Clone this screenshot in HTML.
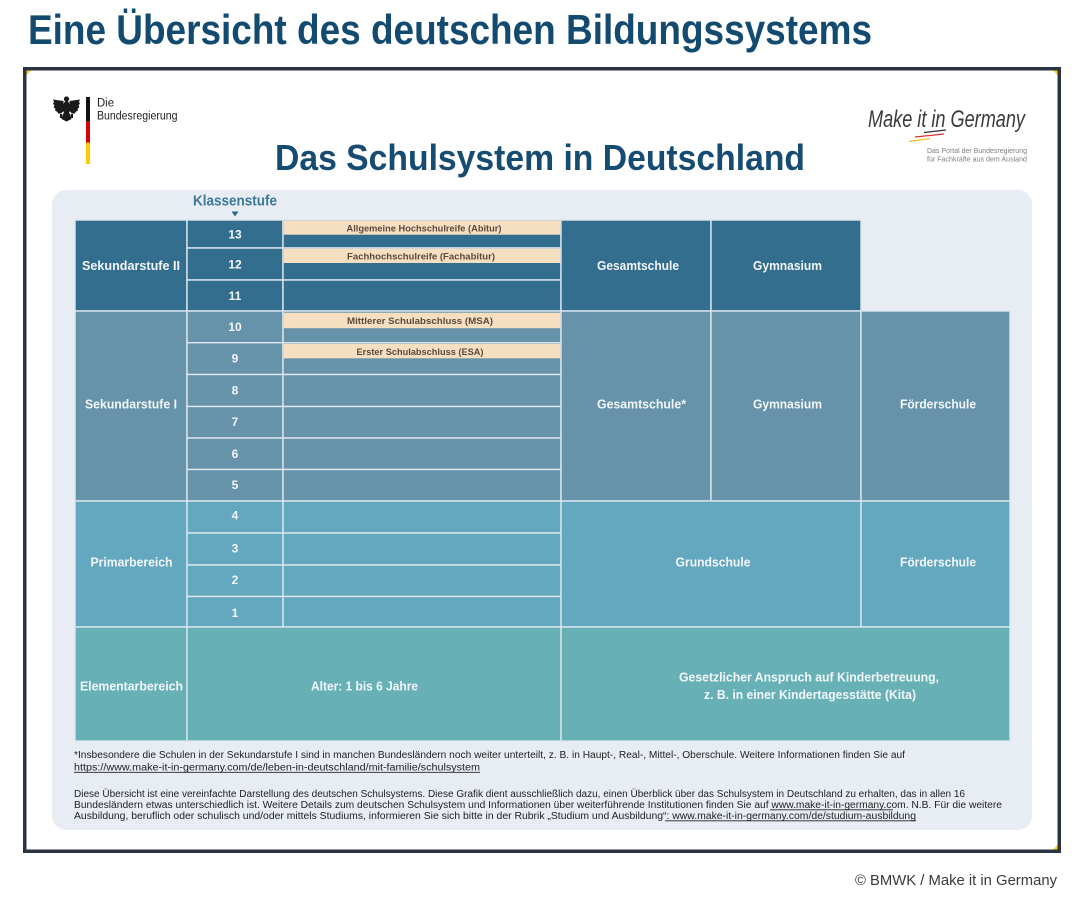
<!DOCTYPE html>
<html>
<head>
<meta charset="utf-8">
<style>
  html,body{margin:0;padding:0;background:#ffffff;}
  svg{display:block;}
  text{font-family:"Liberation Sans", sans-serif;}
  .cell{font-weight:bold;fill:#f2f6f8;font-size:12.5px;}
  .num{font-weight:bold;fill:#f2f6f8;font-size:12px;}
  .ban{font-weight:bold;fill:#5a4a3c;font-size:9.5px;}
  .foot{fill:#222;font-size:10px;}
</style>
</head>
<body>
<svg width="1077" height="912" viewBox="0 0 1077 912" xmlns="http://www.w3.org/2000/svg">
  <rect x="0" y="0" width="1077" height="912" fill="#ffffff"/>

  <!-- Page title -->
  <text x="28" y="44" font-size="42" font-weight="bold" fill="#124b6f" textLength="844" lengthAdjust="spacingAndGlyphs">Eine Übersicht des deutschen Bildungssystems</text>

  <!-- Frame -->
  <rect x="24.75" y="68.75" width="1034.5" height="782.5" fill="#ffffff" stroke="#2b3341" stroke-width="3.5"/>
  <polygon points="26.5,70.5 31,70.5 26.5,75" fill="#f2d21b"/>
  <polygon points="1057.5,70.5 1053,70.5 1057.5,75" fill="#f2d21b"/>
  <polygon points="1057.5,849.5 1053,849.5 1057.5,845" fill="#f2d21b"/>

  <!-- Bundesregierung logo -->
  <g fill="#1a1a1a">
    <circle cx="66.5" cy="99" r="2.6"/>
    <ellipse cx="66.5" cy="108" rx="3.6" ry="7"/>
    <polygon points="63.5,101 53,99.5 54,102 53,103.5 54.5,105.5 53.5,107 55.5,109 55,110.5 57.5,112 58,113.5 61,113.5 63.5,111"/>
    <polygon points="69.5,101 80,99.5 79,102 80,103.5 78.5,105.5 79.5,107 77.5,109 78,110.5 75.5,112 75,113.5 72,113.5 69.5,111"/>
    <polygon points="63,113.5 70,113.5 71.5,119 66.5,121.5 61.5,119"/>
    <rect x="60" y="114" width="2" height="4"/>
    <rect x="71" y="114" width="2" height="4"/>
  </g>
  <rect x="86" y="97" width="4" height="24.7" fill="#111"/>
  <rect x="86" y="121.7" width="4" height="21" fill="#dd0000"/>
  <rect x="86" y="142.7" width="4" height="21.3" fill="#ffcc00"/>
  <text x="97" y="106.7" font-size="11.5" fill="#222" textLength="17" lengthAdjust="spacingAndGlyphs">Die</text>
  <text x="97" y="119.5" font-size="11.5" fill="#222" textLength="80.5" lengthAdjust="spacingAndGlyphs">Bundesregierung</text>

  <!-- Make it in Germany logo -->
  <text x="868" y="127" font-family="Liberation Serif, serif" font-style="italic" font-size="24" fill="#3a3a3a" textLength="157" lengthAdjust="spacingAndGlyphs">Make it in Germany</text>
  <line x1="924" y1="132.5" x2="946" y2="130" stroke="#333" stroke-width="1.3"/>
  <line x1="915" y1="137" x2="944" y2="134" stroke="#d33" stroke-width="1.3"/>
  <line x1="909" y1="141.5" x2="930" y2="138.5" stroke="#f0c020" stroke-width="1.3"/>
  <text x="1027" y="153" font-size="7.6" fill="#808080" text-anchor="end" textLength="100" lengthAdjust="spacingAndGlyphs">Das Portal der Bundesregierung</text>
  <text x="1027" y="161.5" font-size="7.6" fill="#808080" text-anchor="end" textLength="100" lengthAdjust="spacingAndGlyphs">für Fachkräfte aus dem Ausland</text>

  <!-- Header -->
  <text x="275" y="170" font-size="36" font-weight="bold" fill="#164b72" textLength="530" lengthAdjust="spacingAndGlyphs">Das Schulsystem in Deutschland</text>

  <!-- Panel -->
  <rect x="52" y="190" width="980" height="640" rx="14" ry="14" fill="#e8edf4"/>

  <!-- Klassenstufe -->
  <text x="235" y="205.5" text-anchor="middle" font-size="14.5" font-weight="bold" fill="#3b7898" textLength="84" lengthAdjust="spacingAndGlyphs">Klassenstufe</text>
  <polygon points="231.5,211.5 238.5,211.5 235,216.5" fill="#2f6688"/>

  <g stroke="#dce7ee" stroke-width="1.4">
    <!-- Sekundarstufe II -->
    <g fill="#346e8f">
      <rect x="75" y="220" width="112" height="91"/>
      <rect x="187" y="220" width="96" height="28"/>
      <rect x="187" y="248" width="96" height="32"/>
      <rect x="187" y="280" width="96" height="31"/>
      <rect x="283" y="220" width="278" height="28"/>
      <rect x="283" y="248" width="278" height="32"/>
      <rect x="283" y="280" width="278" height="31"/>
      <rect x="561" y="220" width="150" height="91"/>
      <rect x="711" y="220" width="150" height="91"/>
    </g>
    <!-- Sekundarstufe I -->
    <g fill="#6693aa">
      <rect x="75" y="311" width="112" height="190"/>
      <rect x="187" y="311" width="96" height="31.7"/>
      <rect x="187" y="342.7" width="96" height="31.8"/>
      <rect x="187" y="374.5" width="96" height="32"/>
      <rect x="187" y="406.5" width="96" height="31.5"/>
      <rect x="187" y="438" width="96" height="31.5"/>
      <rect x="187" y="469.5" width="96" height="31.5"/>
      <rect x="283" y="311" width="278" height="31.7"/>
      <rect x="283" y="342.7" width="278" height="31.8"/>
      <rect x="283" y="374.5" width="278" height="32"/>
      <rect x="283" y="406.5" width="278" height="31.5"/>
      <rect x="283" y="438" width="278" height="31.5"/>
      <rect x="283" y="469.5" width="278" height="31.5"/>
      <rect x="561" y="311" width="150" height="190"/>
      <rect x="711" y="311" width="150" height="190"/>
      <rect x="861" y="311" width="149" height="190"/>
    </g>
    <!-- Primarbereich -->
    <g fill="#63a8bf">
      <rect x="75" y="501" width="112" height="126"/>
      <rect x="187" y="501" width="96" height="32"/>
      <rect x="187" y="533" width="96" height="32"/>
      <rect x="187" y="565" width="96" height="31.5"/>
      <rect x="187" y="596.5" width="96" height="30.5"/>
      <rect x="283" y="501" width="278" height="32"/>
      <rect x="283" y="533" width="278" height="32"/>
      <rect x="283" y="565" width="278" height="31.5"/>
      <rect x="283" y="596.5" width="278" height="30.5"/>
      <rect x="561" y="501" width="300" height="126"/>
      <rect x="861" y="501" width="149" height="126"/>
    </g>
    <!-- Elementarbereich -->
    <g fill="#67b1b6">
      <rect x="75" y="627" width="112" height="114"/>
      <rect x="187" y="627" width="374" height="114"/>
      <rect x="561" y="627" width="449" height="114"/>
    </g>
  </g>

  <!-- Banners -->
  <g fill="#f6dfc1">
    <rect x="283.7" y="220.7" width="276.6" height="14"/>
    <rect x="283.7" y="248.7" width="276.6" height="14.3"/>
    <rect x="283.7" y="312.7" width="276.6" height="15.5"/>
    <rect x="283.7" y="343.8" width="276.6" height="14.5"/>
  </g>
  <text class="ban" x="424" y="231.5" text-anchor="middle" textLength="155" lengthAdjust="spacingAndGlyphs">Allgemeine Hochschulreife (Abitur)</text>
  <text class="ban" x="421" y="259.5" text-anchor="middle" textLength="148" lengthAdjust="spacingAndGlyphs">Fachhochschulreife (Fachabitur)</text>
  <text class="ban" x="420" y="324" text-anchor="middle" textLength="146" lengthAdjust="spacingAndGlyphs">Mittlerer Schulabschluss  (MSA)</text>
  <text class="ban" x="420" y="355" text-anchor="middle" textLength="127" lengthAdjust="spacingAndGlyphs">Erster Schulabschluss (ESA)</text>

  <!-- Column 1 labels -->
  <text class="cell" x="131" y="270" text-anchor="middle" textLength="98" lengthAdjust="spacingAndGlyphs">Sekundarstufe II</text>
  <text class="cell" x="131" y="408.3" text-anchor="middle" textLength="92" lengthAdjust="spacingAndGlyphs">Sekundarstufe I</text>
  <text class="cell" x="131.5" y="566.5" text-anchor="middle" textLength="82" lengthAdjust="spacingAndGlyphs">Primarbereich</text>
  <text class="cell" x="131.5" y="690.7" text-anchor="middle" textLength="103" lengthAdjust="spacingAndGlyphs">Elementarbereich</text>

  <!-- Grade numbers -->
  <g class="num" text-anchor="middle">
    <text class="num" x="235" y="238.5" text-anchor="middle">13</text>
    <text class="num" x="235" y="268.5" text-anchor="middle">12</text>
    <text class="num" x="235" y="300" text-anchor="middle">11</text>
    <text class="num" x="235" y="331" text-anchor="middle">10</text>
    <text class="num" x="235" y="362.5" text-anchor="middle">9</text>
    <text class="num" x="235" y="394.5" text-anchor="middle">8</text>
    <text class="num" x="235" y="426" text-anchor="middle">7</text>
    <text class="num" x="235" y="458" text-anchor="middle">6</text>
    <text class="num" x="235" y="489" text-anchor="middle">5</text>
    <text class="num" x="235" y="519.5" text-anchor="middle">4</text>
    <text class="num" x="235" y="552.5" text-anchor="middle">3</text>
    <text class="num" x="235" y="584" text-anchor="middle">2</text>
    <text class="num" x="235" y="617" text-anchor="middle">1</text>
  </g>

  <!-- School types -->
  <text class="cell" x="638" y="270" text-anchor="middle" textLength="82" lengthAdjust="spacingAndGlyphs">Gesamtschule</text>
  <text class="cell" x="787.5" y="270" text-anchor="middle" textLength="69" lengthAdjust="spacingAndGlyphs">Gymnasium</text>
  <text class="cell" x="641.5" y="408.3" text-anchor="middle" textLength="89" lengthAdjust="spacingAndGlyphs">Gesamtschule*</text>
  <text class="cell" x="787.5" y="408.3" text-anchor="middle" textLength="69" lengthAdjust="spacingAndGlyphs">Gymnasium</text>
  <text class="cell" x="938" y="408.3" text-anchor="middle" textLength="76" lengthAdjust="spacingAndGlyphs">Förderschule</text>
  <text class="cell" x="713" y="566.5" text-anchor="middle" textLength="75" lengthAdjust="spacingAndGlyphs">Grundschule</text>
  <text class="cell" x="938" y="566.5" text-anchor="middle" textLength="76" lengthAdjust="spacingAndGlyphs">Förderschule</text>
  <text class="cell" x="364.5" y="690.7" text-anchor="middle" textLength="107" lengthAdjust="spacingAndGlyphs">Alter: 1 bis 6 Jahre</text>
  <text class="cell" x="809" y="681.5" text-anchor="middle" textLength="260" lengthAdjust="spacingAndGlyphs">Gesetzlicher Anspruch auf Kinderbetreuung,</text>
  <text class="cell" x="810" y="699" text-anchor="middle" textLength="212" lengthAdjust="spacingAndGlyphs">z. B. in einer Kindertagesstätte (Kita)</text>

  <!-- Footer notes -->
  <text class="foot" x="74" y="758" textLength="831" lengthAdjust="spacingAndGlyphs">*Insbesondere die Schulen in der Sekundarstufe I sind in manchen Bundesländern noch weiter unterteilt, z. B. in Haupt-, Real-, Mittel-, Oberschule. Weitere Informationen finden Sie auf</text>
  <text class="foot" x="74" y="770.5" textLength="406" lengthAdjust="spacingAndGlyphs">https://www.make-it-in-germany.com/de/leben-in-deutschland/mit-familie/schulsystem</text>
  <line x1="74" y1="772.3" x2="480" y2="772.3" stroke="#222" stroke-width="0.8"/>
  <text class="foot" x="74" y="797" textLength="891" lengthAdjust="spacingAndGlyphs">Diese Übersicht ist eine vereinfachte Darstellung des deutschen Schulsystems. Diese Grafik dient ausschließlich dazu, einen Überblick über das Schulsystem in Deutschland zu erhalten, das in allen 16</text>
  <text class="foot" x="74" y="808" textLength="928" lengthAdjust="spacingAndGlyphs">Bundesländern etwas unterschiedlich ist. Weitere Details zum deutschen Schulsystem und Informationen über weiterführende Institutionen finden Sie auf www.make-it-in-germany.com. N.B. Für die weitere</text>
  <line x1="770" y1="809.8" x2="893" y2="809.8" stroke="#222" stroke-width="0.8"/>
  <text class="foot" x="74" y="819" textLength="842" lengthAdjust="spacingAndGlyphs">Ausbildung, beruflich oder schulisch und/oder mittels Studiums, informieren Sie sich bitte in der Rubrik „Studium und Ausbildung“: www.make-it-in-germany.com/de/studium-ausbildung</text>
  <line x1="665" y1="820.8" x2="916" y2="820.8" stroke="#222" stroke-width="0.8"/>

  <!-- Copyright -->
  <text x="855" y="885" font-size="15" fill="#3a3a3a" textLength="202" lengthAdjust="spacingAndGlyphs">© BMWK / Make it in Germany</text>
</svg>
</body>
</html>
